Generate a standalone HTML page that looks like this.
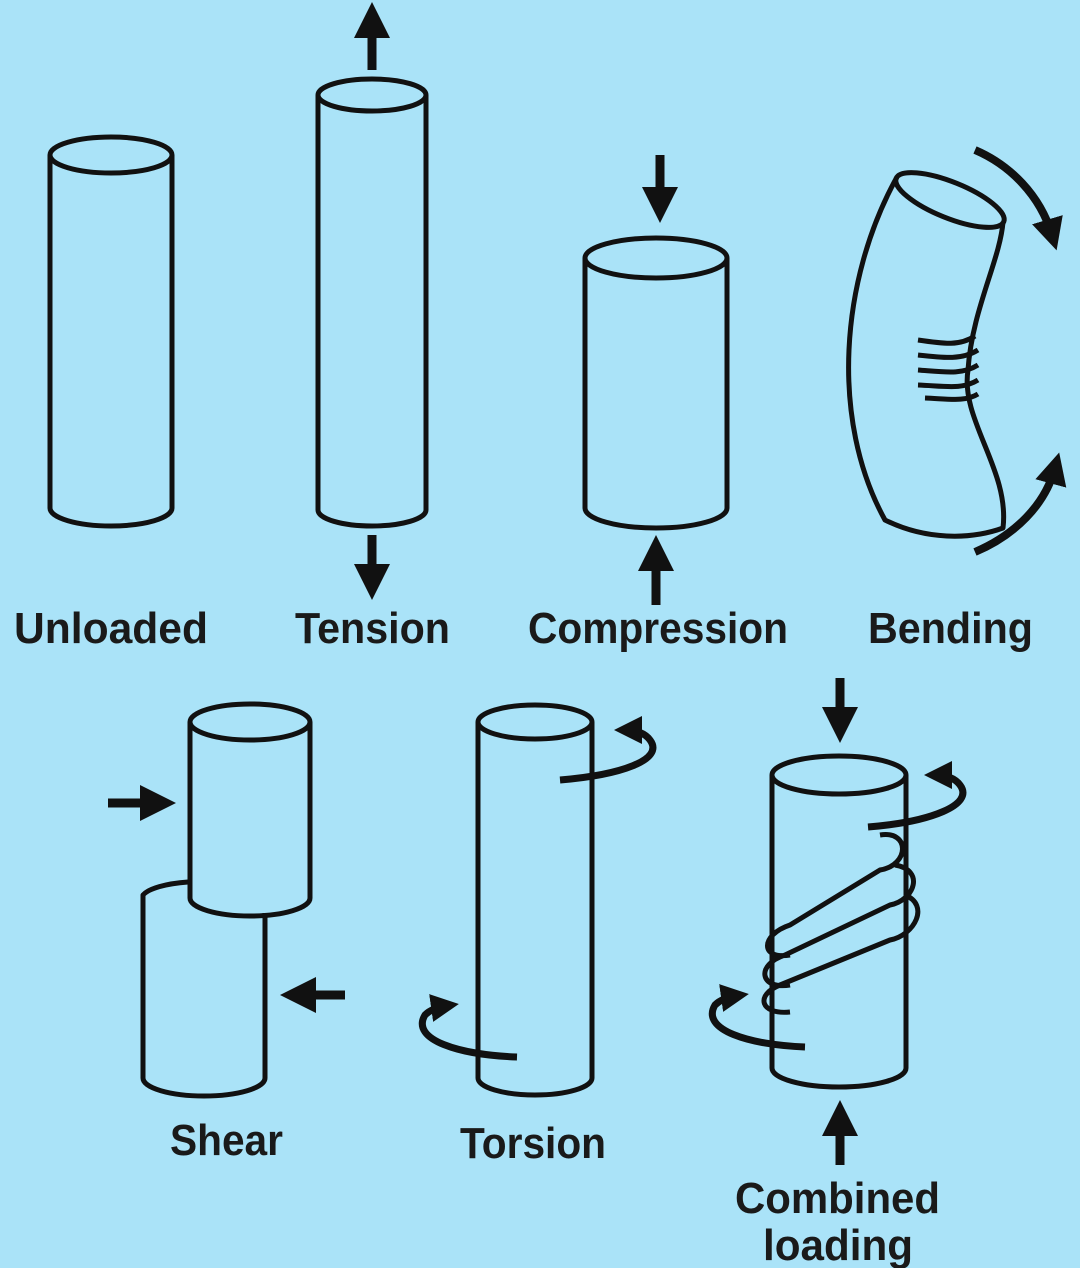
<!DOCTYPE html>
<html><head><meta charset="utf-8"><style>
html,body{margin:0;padding:0;background:#aae3f8;}
svg{display:block}
text{font-family:"Liberation Sans",sans-serif;font-weight:bold;font-size:44px;fill:#1a1a1a}
</style></head><body>
<svg width="1080" height="1268" viewBox="0 0 1080 1268" xmlns="http://www.w3.org/2000/svg">
<defs>
<marker id="ah" markerWidth="4" markerHeight="4" refX="2" refY="2" orient="auto" markerUnits="strokeWidth">
<path d="M0,0 L4,2 L0,4 Z" fill="#111"/></marker>
</defs>
<rect width="1080" height="1268" fill="#aae3f8"/>
<g fill="none" stroke="#111" stroke-width="5" stroke-linejoin="round">
<ellipse cx="111" cy="155" rx="61" ry="18"/>
<path d="M50,155 V508 A61,18 0 0 0 172,508 V155"/>
<ellipse cx="372" cy="95" rx="54" ry="16"/>
<path d="M318,95 V510 A54,16 0 0 0 426,510 V95"/>
<ellipse cx="656" cy="258" rx="71" ry="20"/>
<path d="M585,258 V508 A71,20 0 0 0 727,508 V258"/>
<ellipse cx="950" cy="200" rx="58" ry="18" transform="rotate(22 950 200)"/>
<path d="M897,177 C840,280 830,420 885,520 C925,540 970,540 1003,528 C1010,470 960,420 968,370 C972,310 1000,260 1003,222"/>
<path d="M918,340 C945,344 960,346 975,336 M918,355 C945,358 962,360 978,350 M918,370 C945,372 962,375 978,365 M918,385 C945,386 962,390 978,380 M925,398 C950,399 965,402 978,394"/>
<ellipse cx="250" cy="722" rx="60" ry="18"/>
<path d="M190,722 V898 A60,18 0 0 0 310,898 V722"/>
<path d="M188,882 A61,18 0 0 0 143,895 V1078 A61,18 0 0 0 265,1078 V913"/>
<ellipse cx="535" cy="722" rx="57" ry="17"/>
<path d="M478,722 V1078 A57,17 0 0 0 592,1078 V722"/>
<ellipse cx="839" cy="775" rx="67" ry="19"/>
<path d="M772,775 V1068 A67,19 0 0 0 906,1068 V775"/>
<path d="M880,835 C910,830 910,865 880,870 L790,925 C760,935 760,960 790,955 M895,865 C925,870 915,900 890,905 L785,955 C755,965 760,990 790,985 M905,895 C930,905 915,935 890,940 L780,985 C755,995 760,1015 790,1012"/>
</g>
<g stroke="#111" stroke-width="9" fill="none" marker-end="url(#ah)">
<line x1="372" y1="70" x2="372" y2="20"/>
<line x1="372" y1="535" x2="372" y2="582"/>
<line x1="660" y1="155" x2="660" y2="205"/>
<line x1="656" y1="605" x2="656" y2="553"/>
<line x1="108" y1="803" x2="158" y2="803"/>
<line x1="345" y1="995" x2="298" y2="995"/>
<line x1="840" y1="678" x2="840" y2="725"/>
<line x1="840" y1="1165" x2="840" y2="1118"/>
<path d="M975,150 C1010,165 1040,195 1052,235" stroke-width="8"/>
<path d="M975,552 C1015,535 1045,505 1055,468" stroke-width="8"/>
<path d="M560,780 C620,775 665,760 650,740 C645,733 635,730 628,730" stroke-width="7"/>
<path d="M517,1057 C460,1055 410,1040 425,1015 C430,1010 438,1007 445,1006" stroke-width="7"/>
<path d="M868,827 C930,822 975,805 960,785 C955,778 945,775 938,775" stroke-width="7"/>
<path d="M805,1047 C750,1045 700,1030 715,1005 C720,1000 728,997 735,996" stroke-width="7"/>
</g>
<text x="14" y="643" textLength="194" lengthAdjust="spacingAndGlyphs">Unloaded</text>
<text x="295" y="643" textLength="155" lengthAdjust="spacingAndGlyphs">Tension</text>
<text x="528" y="643" textLength="260" lengthAdjust="spacingAndGlyphs">Compression</text>
<text x="868" y="643" textLength="165" lengthAdjust="spacingAndGlyphs">Bending</text>
<text x="170" y="1155" textLength="113" lengthAdjust="spacingAndGlyphs">Shear</text>
<text x="460" y="1158" textLength="146" lengthAdjust="spacingAndGlyphs">Torsion</text>
<text x="735" y="1213" textLength="205" lengthAdjust="spacingAndGlyphs">Combined</text>
<text x="763" y="1260" textLength="150" lengthAdjust="spacingAndGlyphs">loading</text>
</svg>
</body></html>
